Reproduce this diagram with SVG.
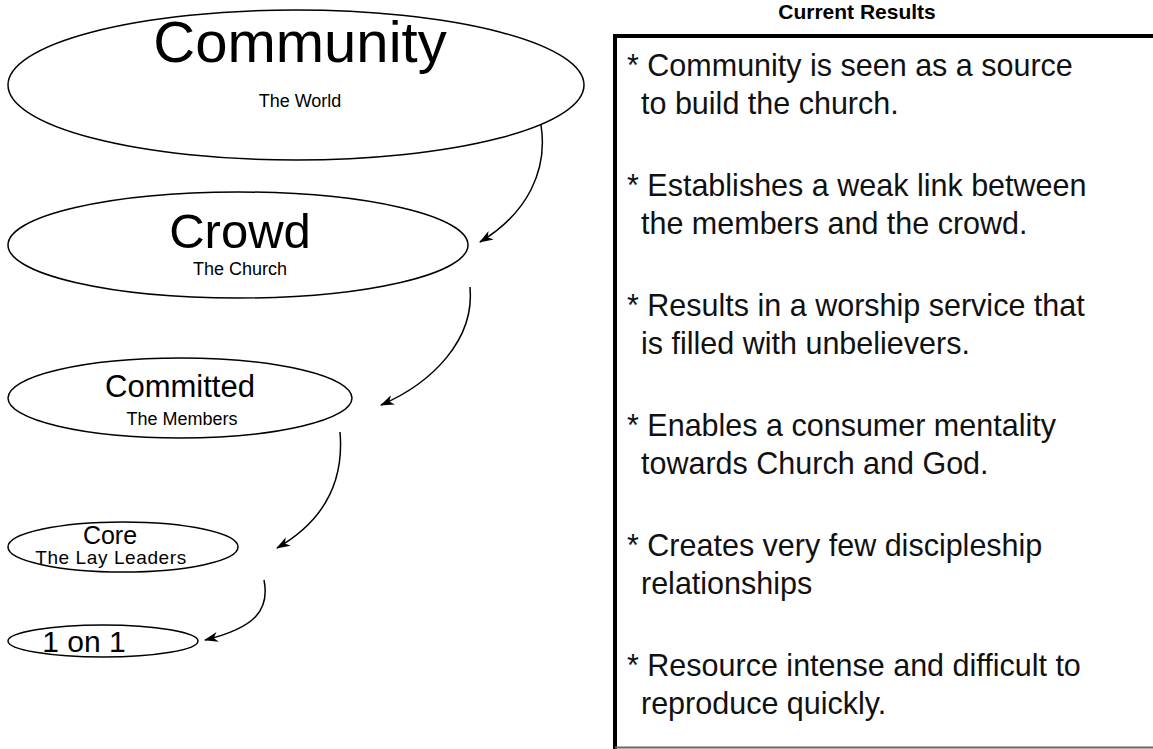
<svg xmlns="http://www.w3.org/2000/svg" width="1153" height="749" viewBox="0 0 1153 749">
<style>
.ell{fill:none;stroke:#000;stroke-width:1.5}
.t{font-family:"Liberation Sans",Arial,sans-serif;fill:#000;text-anchor:middle}
.b{font-family:"Liberation Sans",Arial,sans-serif;fill:#111;font-size:30.5px}
.con{fill:none;stroke:#000;stroke-width:1.5}
</style>
<defs>
<marker id="ah" viewBox="0 0 14 10" refX="13" refY="5" markerWidth="14" markerHeight="10" markerUnits="userSpaceOnUse" orient="auto">
<path d="M0,0 L14,5 L0,10 L4,5 Z" fill="#000"/>
</marker>
</defs>
<rect width="1153" height="749" fill="#fff"/>
<g id="community">
<ellipse class="ell" cx="296" cy="85" rx="288" ry="75"/>
<text class="t" x="300" y="62" font-size="58">Community</text>
<text class="t" x="300" y="107" font-size="18">The World</text>
</g>
<g id="crowd">
<ellipse class="ell" cx="238" cy="245" rx="230" ry="53"/>
<text class="t" x="240" y="248" font-size="49">Crowd</text>
<text class="t" x="240" y="275" font-size="18">The Church</text>
</g>
<g id="committed">
<ellipse class="ell" cx="180" cy="398" rx="172" ry="40"/>
<text class="t" x="180" y="397" font-size="31">Committed</text>
<text class="t" x="182" y="425" font-size="18">The Members</text>
</g>
<g id="core">
<ellipse class="ell" cx="123" cy="547" rx="115" ry="25"/>
<text class="t" x="110" y="544" font-size="25">Core</text>
<text class="t" x="111" y="564" font-size="19" letter-spacing="0.6">The Lay Leaders</text>
</g>
<g id="oneonone">
<ellipse class="ell" cx="103" cy="641" rx="95" ry="16"/>
<text class="t" x="84" y="652" font-size="30">1 on 1</text>
</g>
<g id="connectors">
<path class="con" marker-end="url(#ah)" d="M541,125 C548,170 528,213 480,242"/>
<path class="con" marker-end="url(#ah)" d="M470,287 C475,340 432,383 381,405"/>
<path class="con" marker-end="url(#ah)" d="M340,432 C345,490 317,525 277,548"/>
<path class="con" marker-end="url(#ah)" d="M264,580 C270,610 255,628 205,640"/>
</g>
<g id="results">
<text x="857" y="19" font-family="Liberation Sans,Arial,sans-serif" font-weight="bold" font-size="21" text-anchor="middle">Current Results</text>
<path d="M615,749 L615,36 L1153,36" fill="none" stroke="#000" stroke-width="4"/>
<line x1="615" y1="747.5" x2="1153" y2="747.5" stroke="#666" stroke-width="2"/>
<text class="b" x="627" y="76">* Community is seen as a source</text>
<text class="b" x="641" y="114">to build the church.</text>
<text class="b" x="627" y="196">* Establishes a weak link between</text>
<text class="b" x="641" y="234">the members and the crowd.</text>
<text class="b" x="627" y="316">* Results in a worship service that</text>
<text class="b" x="641" y="354">is filled with unbelievers.</text>
<text class="b" x="627" y="436">* Enables a consumer mentality</text>
<text class="b" x="641" y="474">towards Church and God.</text>
<text class="b" x="627" y="556">* Creates very few discipleship</text>
<text class="b" x="641" y="594">relationships</text>
<text class="b" x="627" y="676">* Resource intense and difficult to</text>
<text class="b" x="641" y="714">reproduce quickly.</text>
</g>
</svg>
